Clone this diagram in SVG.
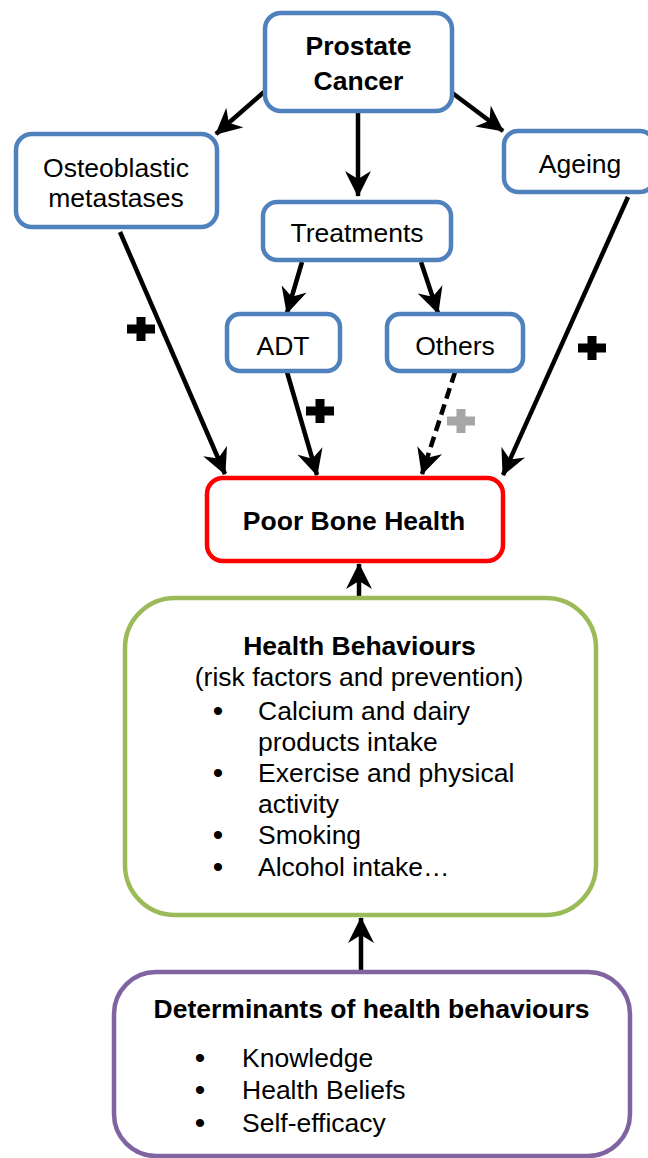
<svg xmlns="http://www.w3.org/2000/svg" width="648" height="1158" viewBox="0 0 648 1158">
  <style>
    .box { fill: #FFFFFF; stroke-width: 4.5; }
    .blue { stroke: #4F81BD; }
    .red { stroke: #FF0000; }
    .green { stroke: #9BBB59; }
    .purple { stroke: #8064A2; }
    text { font-family: "Liberation Sans", Arial, sans-serif; font-size: 26.5px; fill: #000000; }
    .c { text-anchor: middle; }
    .b { font-weight: bold; }
    .dot { font-size: 30px; }
    .link { stroke: #000000; stroke-width: 4.5; fill: none; marker-end: url(#head); }
    .dash { stroke-dasharray: 11 6; }
  </style>
  <defs>
    <marker id="head" markerUnits="userSpaceOnUse" viewBox="0 0 26 26" markerWidth="26" markerHeight="26" refX="25" refY="13" orient="auto">
      <path d="M0,0 L26,13 L0,26 L8,13 Z" fill="#000000"/>
    </marker>
    <path id="plus" d="M-4.5,-12 H4.5 V-4.5 H14 V4.5 H4.5 V12 H-4.5 V4.5 H-14 V-4.5 H-4.5 Z"/>
  </defs>

  <g id="connectors">
    <line class="link" x1="264" y1="92" x2="216" y2="134"/>
    <line class="link" x1="358" y1="112" x2="358" y2="196"/>
    <line class="link" x1="451" y1="92" x2="503" y2="131"/>
    <line class="link" x1="120" y1="232" x2="225" y2="474"/>
    <line class="link" x1="302" y1="262" x2="287" y2="313"/>
    <line class="link" x1="421" y1="262" x2="438" y2="313"/>
    <line class="link" x1="287" y1="372" x2="317" y2="475"/>
    <line class="link dash" x1="455" y1="372" x2="422" y2="474"/>
    <line class="link" x1="628" y1="197" x2="503" y2="475"/>
    <line class="link" x1="359" y1="597" x2="359" y2="564"/>
    <line class="link" x1="361" y1="972" x2="361" y2="918"/>
    <use href="#plus" x="141" y="329" fill="#000000"/>
    <use href="#plus" x="320" y="411" fill="#000000"/>
    <use href="#plus" x="461" y="421" fill="#A6A6A6"/>
    <use href="#plus" x="592" y="348" fill="#000000"/>
  </g>

  <g id="prostate-cancer">
    <rect class="box blue" x="265" y="13" width="187" height="98" rx="16"/>
    <text class="c b" x="358.5" y="55">Prostate</text>
    <text class="c b" x="358.5" y="90">Cancer</text>
  </g>

  <g id="osteoblastic-metastases">
    <rect class="box blue" x="16" y="134" width="201" height="93" rx="16"/>
    <text class="c" x="116" y="177">Osteoblastic</text>
    <text class="c" x="116" y="207">metastases</text>
  </g>

  <g id="ageing">
    <rect class="box blue" x="504" y="131" width="150" height="61" rx="14"/>
    <text class="c" x="580" y="173">Ageing</text>
  </g>

  <g id="treatments">
    <rect class="box blue" x="263" y="202" width="188" height="58" rx="14"/>
    <text class="c" x="357" y="242">Treatments</text>
  </g>

  <g id="adt">
    <rect class="box blue" x="227" y="314" width="113" height="57" rx="13"/>
    <text class="c" x="283" y="355">ADT</text>
  </g>

  <g id="others">
    <rect class="box blue" x="387" y="314" width="136" height="57" rx="13"/>
    <text class="c" x="455" y="355">Others</text>
  </g>

  <g id="poor-bone-health">
    <rect class="box red" x="207" y="478" width="296" height="83" rx="16"/>
    <text class="c b" x="354" y="530">Poor Bone Health</text>
  </g>

  <g id="health-behaviours">
    <rect class="box green" x="125" y="598" width="471" height="317" rx="50"/>
    <text class="c b" x="359.5" y="655">Health Behaviours</text>
    <text class="c" x="359" y="686">(risk factors and prevention)</text>
    <text x="218" y="721" class="c dot">•</text>
    <text x="258" y="720">Calcium and dairy</text>
    <text x="258" y="751">products intake</text>
    <text x="218" y="783" class="c dot">•</text>
    <text x="258" y="782">Exercise and physical</text>
    <text x="258" y="813">activity</text>
    <text x="218" y="845" class="c dot">•</text>
    <text x="258" y="844">Smoking</text>
    <text x="218" y="877" class="c dot">•</text>
    <text x="258" y="876">Alcohol intake…</text>
  </g>

  <g id="determinants">
    <rect class="box purple" x="114" y="972" width="516" height="184" rx="42"/>
    <text class="c b" x="371.5" y="1018">Determinants of health behaviours</text>
    <text x="200" y="1068" class="c dot">•</text>
    <text x="242" y="1067">Knowledge</text>
    <text x="200" y="1100" class="c dot">•</text>
    <text x="242" y="1099">Health Beliefs</text>
    <text x="200" y="1133" class="c dot">•</text>
    <text x="242" y="1132">Self-efficacy</text>
  </g>
</svg>
